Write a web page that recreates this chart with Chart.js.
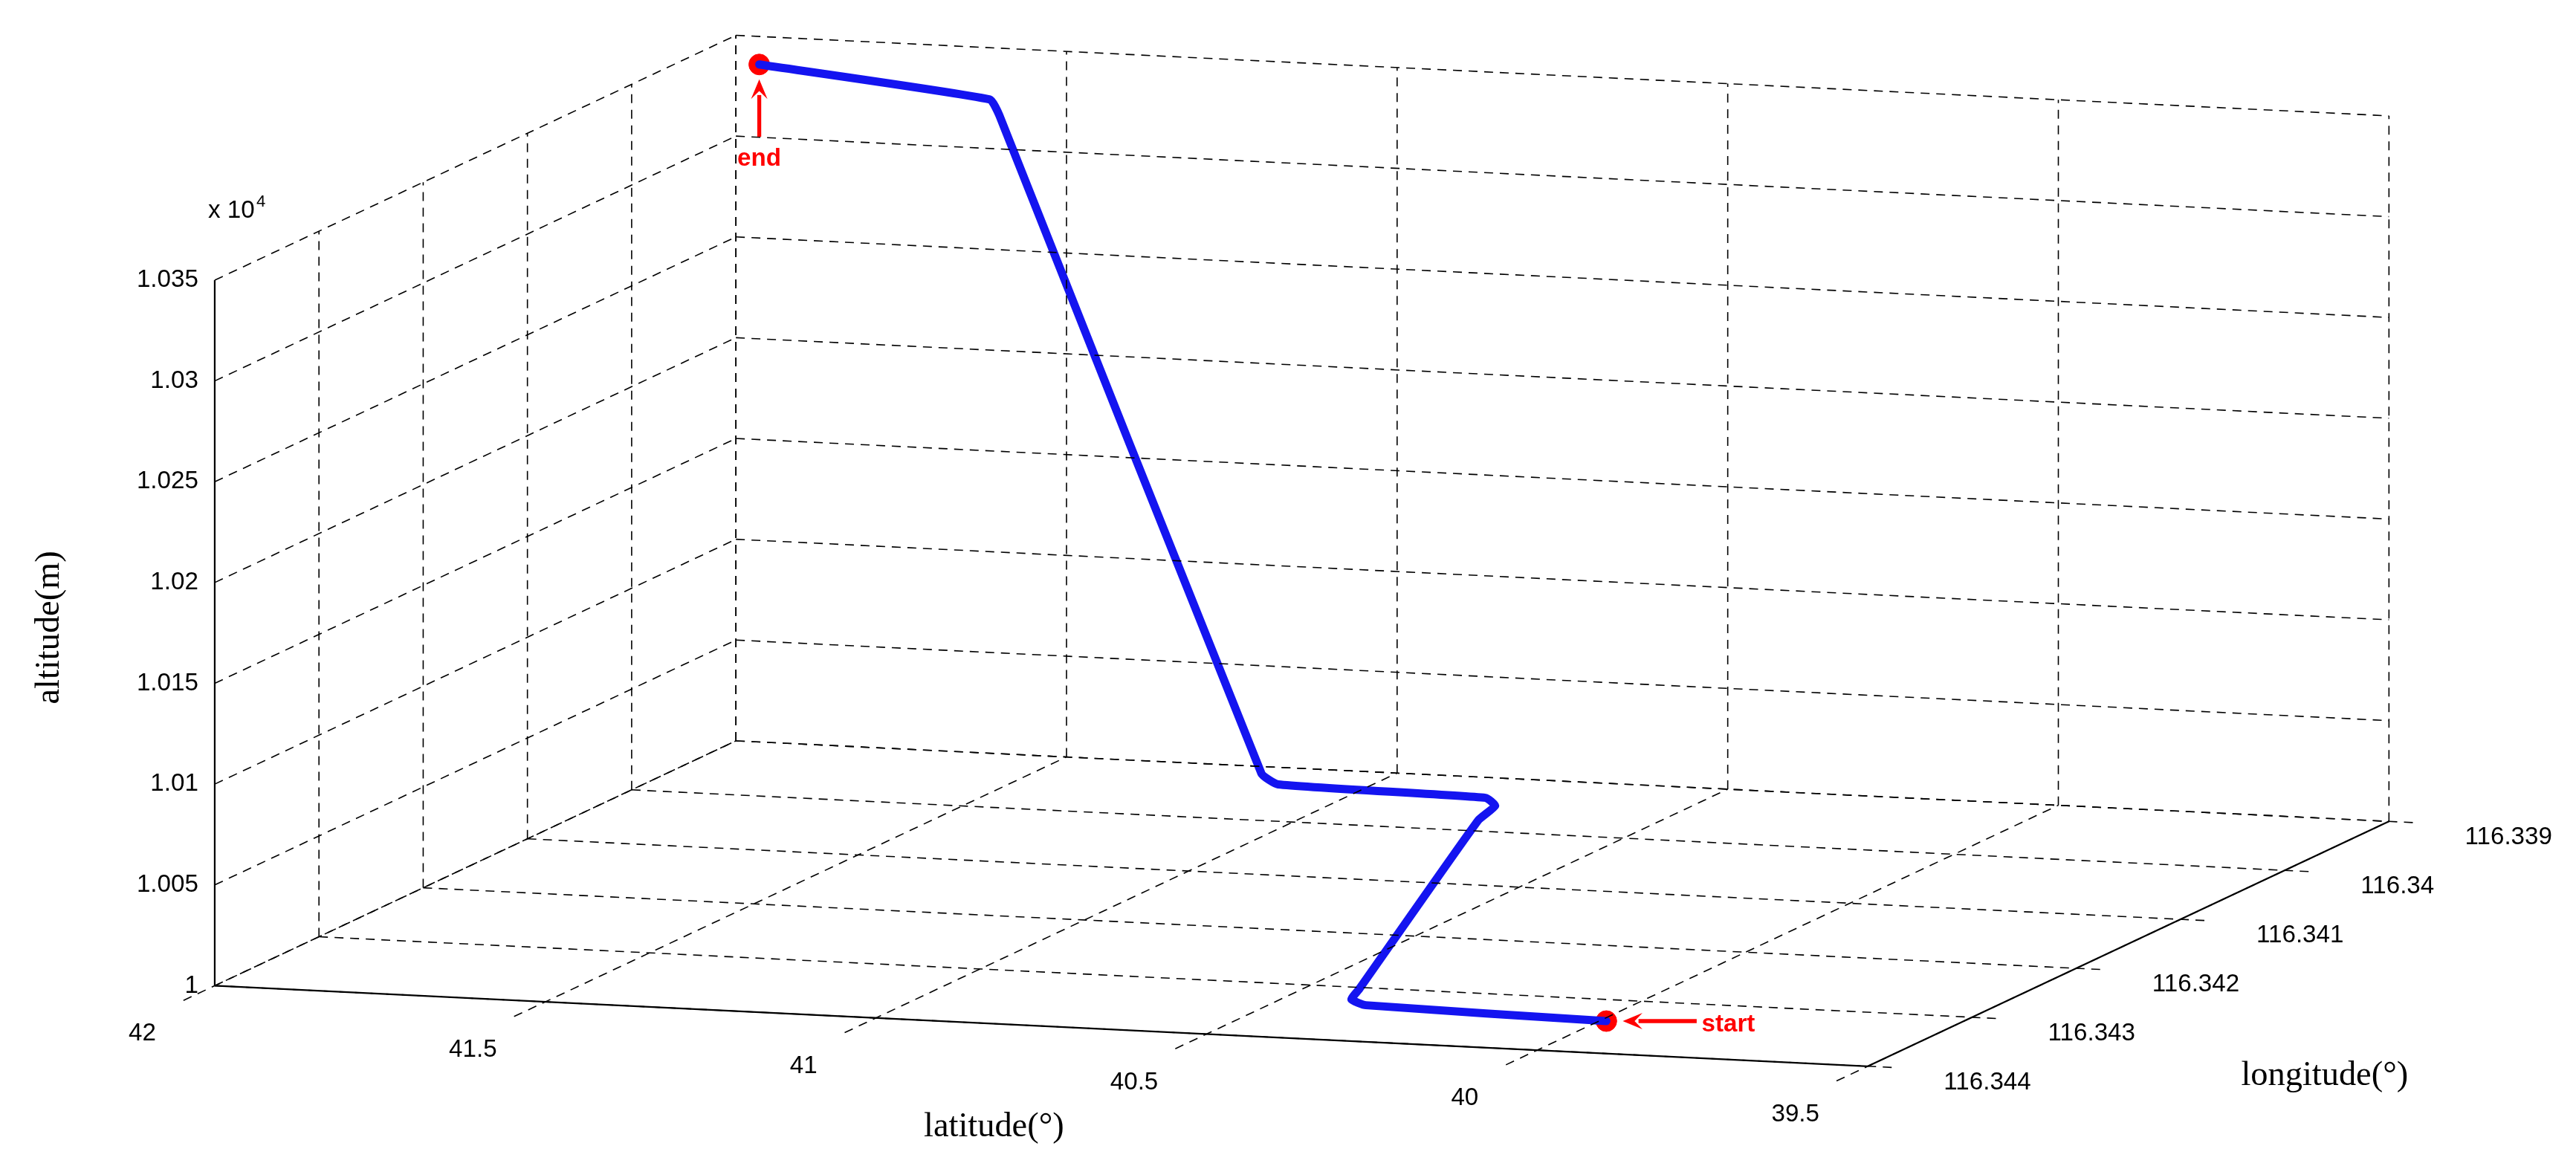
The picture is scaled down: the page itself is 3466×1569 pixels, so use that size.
<!DOCTYPE html>
<html>
<head>
<meta charset="utf-8">
<script src="https://cdn.jsdelivr.net/npm/chart.js@4/dist/chart.umd.min.js"></script>
<style>
  body { margin: 0; background: #fff; }
  #wrap { width: 3466px; height: 1569px; }
</style>
</head>
<body>
<div id="wrap"><canvas id="chart"></canvas></div>
<script>
// Tick values of the three axes
var latTicks = [42, 41.5, 41, 40.5, 40, 39.5];
var lonTicks = [116.344, 116.343, 116.342, 116.341, 116.34, 116.339];
var altTicks = [10000, 10050, 10100, 10150, 10200, 10250, 10300, 10350];
var altTickLabels = ['1', '1.005', '1.01', '1.015', '1.02', '1.025', '1.03', '1.035'];

// Flight path (latitude, longitude, altitude in m)
var latPath = [39.99, 40.36, 40.385, 40.38, 40.31, 40.30, 40.33, 40.66, 40.685, 41.57, 41.60, 41.93];
var lonPath = [116.3434, 116.34336, 116.34334, 116.3433, 116.3426, 116.3425, 116.3424, 116.3423, 116.3423, 116.3392, 116.3391, 116.33922];
var altPath = [10000, 10001, 10003, 10007, 10075, 10080, 10081, 10080, 10085, 10322, 10327, 10342];

// Projection of the 3D box onto the picture (picture units 1568 x 710)
function project(lat, lon, alt) {
  var a = 42 - lat;
  var b = (116.344 - lon) * 1000;
  var h = (alt - 10000) / 10000;
  return { x: 125 + a * 406 + b * 64, y: 605 + a * 20 - b * 30.4 - h * 12514 };
}

function line3d(p, q, dashed, solid) {
  var s = project(p[0], p[1], p[2]), e = project(q[0], q[1], q[2]);
  return {
    data: [s, e], showLine: true, pointRadius: 0, borderColor: '#000',
    borderWidth: solid ? 2.2 : 1.6, borderDash: dashed ? [12, 9] : [], fill: false
  };
}

var latMin = 39.5, latMax = 42, lonNear = 116.344, lonFar = 116.339, altLo = 10000, altHi = 10350;
var datasets = [];
// back wall (lon = far)
latTicks.forEach(function(t) { datasets.push(line3d([t, lonFar, altLo], [t, lonFar, altHi], true)); });
altTicks.forEach(function(t) { datasets.push(line3d([latMax, lonFar, t], [latMin, lonFar, t], true)); });
// left wall (lat = 42)
lonTicks.forEach(function(t) { datasets.push(line3d([latMax, t, altLo], [latMax, t, altHi], true)); });
altTicks.forEach(function(t) { datasets.push(line3d([latMax, lonNear, t], [latMax, lonFar, t], true)); });
// floor
latTicks.forEach(function(t) { datasets.push(line3d([t, lonNear + 0.0003, altLo], [t, lonFar, altLo], true)); });
lonTicks.forEach(function(t) { datasets.push(line3d([latMax, t, altLo], [latMin - 0.04, t, altLo], true)); });
// solid axes
datasets.push(line3d([latMax, lonNear, altLo], [latMin, lonNear, altLo], false, true));
datasets.push(line3d([latMin, lonNear, altLo], [latMin, lonFar, altLo], false, true));
datasets.push(line3d([latMax, lonNear, altLo], [latMax, lonNear, altHi], false, true));

// path
var pathPts = latPath.map(function(v, i) { return project(v, lonPath[i], altPath[i]); });
datasets.push({
  data: pathPts, showLine: true, pointRadius: 0, borderColor: '#1414f0',
  borderWidth: 11, tension: 0.15, borderJoinStyle: 'round', borderCapStyle: 'round', fill: false
});
// start / end markers
var last = latPath.length - 1;
datasets.push({
  data: [pathPts[0], pathPts[last]], showLine: false, pointRadius: 14,
  pointBackgroundColor: '#ff0000', pointBorderColor: '#ff0000'
});

function arrow(ctx, x1, y1, x2, y2, k) {
  var ang = Math.atan2(y2 - y1, x2 - x1), L = 12 * k, W = 5 * k;
  ctx.strokeStyle = '#ff0000'; ctx.fillStyle = '#ff0000'; ctx.lineWidth = 2.4 * k;
  ctx.beginPath(); ctx.moveTo(x1, y1);
  ctx.lineTo(x2 - Math.cos(ang) * L * 0.8, y2 - Math.sin(ang) * L * 0.8); ctx.stroke();
  ctx.beginPath(); ctx.moveTo(x2, y2);
  ctx.lineTo(x2 - Math.cos(ang) * L - Math.sin(ang) * W, y2 - Math.sin(ang) * L + Math.cos(ang) * W);
  ctx.lineTo(x2 - Math.cos(ang) * L * 0.6, y2 - Math.sin(ang) * L * 0.6);
  ctx.lineTo(x2 - Math.cos(ang) * L + Math.sin(ang) * W, y2 - Math.sin(ang) * L - Math.cos(ang) * W);
  ctx.closePath(); ctx.fill();
}

var labelsPlugin = {
  id: 'labels3d',
  afterDraw: function(chart) {
    var ctx = chart.ctx, sx = chart.scales.x, sy = chart.scales.y;
    var k = chart.width / 1568;
    function px(p) { return { x: sx.getPixelForValue(p.x), y: sy.getPixelForValue(p.y) }; }
    ctx.save();
    ctx.fillStyle = '#000';
    ctx.font = (15 * k) + 'px "Liberation Sans", Arial, sans-serif';
    // altitude ticks
    ctx.textAlign = 'right'; ctx.textBaseline = 'middle';
    altTicks.forEach(function(t, i) {
      var p = px(project(latMax, lonNear, t));
      ctx.fillText(altTickLabels[i], p.x - 10 * k, p.y);
    });
    // latitude ticks
    ctx.textAlign = 'center'; ctx.textBaseline = 'top';
    latTicks.forEach(function(t) {
      var p = px(project(t, lonNear + 0.0006, altLo));
      ctx.fillText(String(t), p.x - 6 * k, p.y + 4 * k);
    });
    // longitude ticks
    ctx.textAlign = 'left'; ctx.textBaseline = 'middle';
    lonTicks.forEach(function(t) {
      var p = px(project(latMin - 0.1, t, altLo));
      ctx.fillText(String(t), p.x + 6 * k, p.y + 8 * k);
    });
    // exponent
    var top = px(project(latMax, lonNear, altHi));
    ctx.textAlign = 'left'; ctx.textBaseline = 'alphabetic';
    ctx.fillText('x 10', top.x - 4 * k, top.y - 38 * k);
    var w = ctx.measureText('x 10').width;
    ctx.font = (10 * k) + 'px "Liberation Sans", Arial, sans-serif';
    ctx.fillText('4', top.x - 4 * k + w + 1 * k, top.y - 45 * k);
    // axis titles
    ctx.font = (21 * k) + 'px "Liberation Serif", "Times New Roman", serif';
    ctx.textAlign = 'center'; ctx.textBaseline = 'middle';
    ctx.fillText('latitude(\u00b0)', 605 * k, 686 * k);
    ctx.fillText('longitude(\u00b0)', 1415 * k, 655 * k);
    ctx.save();
    ctx.translate(30 * k, 382 * k); ctx.rotate(-Math.PI / 2);
    ctx.fillText('altitude(m)', 0, 0);
    ctx.restore();
    // start / end annotations
    var s = px(pathPts[0]), e = px(pathPts[last]);
    arrow(ctx, s.x + 55 * k, s.y, s.x + 10 * k, s.y, k);
    arrow(ctx, e.x, e.y + 44 * k, e.x, e.y + 9 * k, k);
    ctx.font = 'bold ' + (15 * k) + 'px "Liberation Sans", Arial, sans-serif';
    ctx.fillStyle = '#ff0000';
    ctx.textAlign = 'left'; ctx.textBaseline = 'middle';
    ctx.fillText('start', s.x + 58 * k, s.y + 2 * k);
    ctx.textAlign = 'center'; ctx.textBaseline = 'top';
    ctx.fillText('end', e.x, e.y + 50 * k);
    ctx.restore();
  }
};

new Chart('chart', {
  type: 'scatter',
  data: { datasets: datasets },
  options: {
    responsive: true, maintainAspectRatio: false, animation: false,
    layout: { padding: 0 },
    plugins: { legend: { display: false }, tooltip: { enabled: false } },
    scales: {
      x: { type: 'linear', min: 0, max: 1568, display: false },
      y: { type: 'linear', min: 0, max: 710, reverse: true, display: false }
    }
  },
  plugins: [labelsPlugin]
});
</script>
</body>
</html>
